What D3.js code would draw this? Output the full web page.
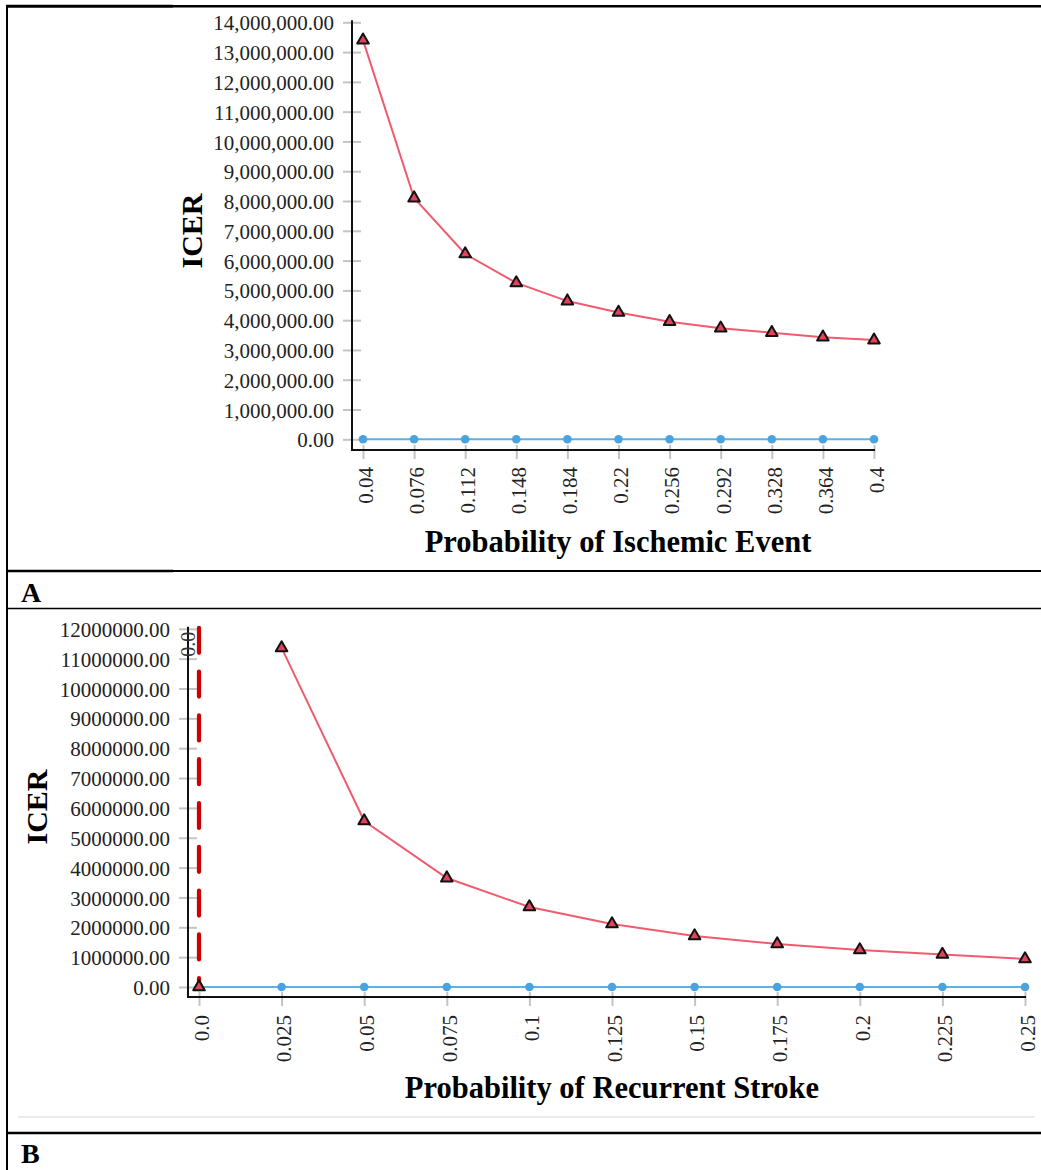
<!DOCTYPE html>
<html>
<head>
<meta charset="utf-8">
<script src="https://cdn.jsdelivr.net/npm/d3@7"></script>
<style>
  html, body { margin: 0; padding: 0; background: #fff; }
  svg { display: block; }
  text { font-family: "Liberation Serif", "Times New Roman", serif; }
</style>
</head>
<body>
<svg id="fig" width="1041" height="1170"></svg>
<script>
// ---- Panel A: probability of ischemic event ----
const ischemicProb = ["0.04", "0.076", "0.112", "0.148", "0.184", "0.22", "0.256", "0.292", "0.328", "0.364", "0.4"];
const ischemicIcer = [13400000, 8100000, 6220000, 5250000, 4640000, 4260000, 3950000, 3730000, 3580000, 3430000, 3330000];
const ischemicBase = [0, 0, 0, 0, 0, 0, 0, 0, 0, 0, 0];
const ischemicYTicks = [0, 1e6, 2e6, 3e6, 4e6, 5e6, 6e6, 7e6, 8e6, 9e6, 10e6, 11e6, 12e6, 13e6, 14e6];

// ---- Panel B: probability of recurrent stroke ----
const strokeProb = ["0.0", "0.025", "0.05", "0.075", "0.1", "0.125", "0.15", "0.175", "0.2", "0.225", "0.25"];
const strokeIcer = [0, 11360000, 5560000, 3650000, 2680000, 2110000, 1710000, 1440000, 1240000, 1090000, 940000];
const strokeBase = [0, 0, 0, 0, 0, 0, 0, 0, 0, 0, 0];
const strokeYTicks = [0, 1e6, 2e6, 3e6, 4e6, 5e6, 6e6, 7e6, 8e6, 9e6, 10e6, 11e6, 12e6];
const strokeRefLine = "0.0";

const svg = d3.select("#fig");

const RED_LINE = "#f25a6e", RED_FILL = "#e0435a";
const BLUE_LINE = "#5cb0e2", BLUE_FILL = "#4aa3dc";
const TICK_GREY = "#c4c4c4";

// ---- table frame ----
const frame = svg.append("g");
function hline(x1, x2, y, w, c) {
  frame.append("line").attr("x1", x1).attr("x2", x2).attr("y1", y).attr("y2", y)
    .attr("stroke", c || "#000").attr("stroke-width", w);
}
frame.append("line").attr("x1", 7).attr("x2", 7).attr("y1", 5).attr("y2", 1170)
  .attr("stroke", "#000").attr("stroke-width", 2);
hline(6, 173, 6.2, 3); hline(173, 1041, 6.2, 2.4);
hline(6, 173, 571, 2.6); hline(173, 1041, 571, 2.2);
hline(6, 1041, 608.5, 1.6);
hline(18, 1035, 1117, 1, "#d8d8d8");
hline(6, 1041, 1133, 2.6);

frame.append("text").attr("x", 21).attr("y", 602).attr("font-size", 28)
  .attr("font-weight", "bold").text("A");
frame.append("text").attr("x", 21).attr("y", 1163).attr("font-size", 28)
  .attr("font-weight", "bold").text("B");

// ---- generic sensitivity panel ----
function drawPanel(cfg) {
  const g = svg.append("g");
  const x = d3.scalePoint().domain(cfg.cats).range(cfg.xRange);
  const y = d3.scaleLinear().domain(cfg.yDomain).range(cfg.yRange);

  // y axis
  const yAxis = g.append("g").attr("transform", `translate(${cfg.axisX},0)`)
    .call(d3.axisLeft(y).tickValues(cfg.yTicks).tickFormat(cfg.yFormat).tickSize(0).tickPadding(0));
  yAxis.select(".domain").remove();
  yAxis.selectAll(".tick line").remove();
  yAxis.selectAll(".tick").append("line")
    .attr("x1", -9).attr("x2", 9).attr("stroke", TICK_GREY).attr("stroke-width", 2);
  yAxis.selectAll(".tick text").attr("x", -18).attr("dy", "0.36em")
    .attr("font-size", 21).attr("fill", "#222")
    .attr("font-family", "'Liberation Serif', 'Times New Roman', serif");
  g.append("line").attr("x1", cfg.axisX).attr("x2", cfg.axisX)
    .attr("y1", cfg.yRange[1] - 2).attr("y2", cfg.axisY + 1)
    .attr("stroke", "#111").attr("stroke-width", 2);

  // x axis
  const xAxis = g.append("g").attr("transform", `translate(0,${cfg.axisY})`)
    .call(d3.axisBottom(x).tickSize(0).tickPadding(0));
  xAxis.select(".domain").remove();
  xAxis.selectAll(".tick").append("line")
    .attr("y1", -5).attr("y2", 9).attr("stroke", TICK_GREY).attr("stroke-width", 2);
  xAxis.selectAll(".tick text")
    .attr("transform", `translate(2,${cfg.labelTop}) rotate(-90)`)
    .attr("y", 0).attr("dy", "0.35em").attr("text-anchor", "end")
    .attr("font-size", 21).attr("fill", "#222")
    .attr("font-family", "'Liberation Serif', 'Times New Roman', serif");
  g.append("line").attr("x1", cfg.axisX).attr("x2", cfg.xRange[1] + 1)
    .attr("y1", cfg.axisY).attr("y2", cfg.axisY)
    .attr("stroke", "#111").attr("stroke-width", 2.2);

  // reference line
  if (cfg.refLine !== undefined) {
    const rx = x(cfg.refLine);
    g.append("line").attr("x1", rx).attr("x2", rx)
      .attr("y1", cfg.yRange[1] - 1).attr("y2", cfg.yRange[0])
      .attr("stroke", "#cc0000").attr("stroke-width", 4.2)
      .attr("stroke-linecap", "round").attr("stroke-dasharray", "25,18.8");
    g.append("text")
      .attr("transform", `translate(${rx - 4},${cfg.yRange[1] + 3}) rotate(-90)`)
      .attr("text-anchor", "end").attr("font-size", 20).attr("fill", "#333")
      .text(cfg.refLine);
  }

  // baseline (comparator) series
  const line = d3.line().x((d, i) => x(cfg.cats[i])).y(d => y(d));
  g.append("path").datum(cfg.base).attr("d", line)
    .attr("fill", "none").attr("stroke", BLUE_LINE).attr("stroke-width", 2);
  g.selectAll(".dot").data(cfg.base).join("circle")
    .attr("cx", (d, i) => x(cfg.cats[i])).attr("cy", d => y(d)).attr("r", 4.3)
    .attr("fill", BLUE_FILL);

  // ICER series
  const icerLine = d3.line().defined(d => d > 0)
    .x((d, i) => x(cfg.cats[i])).y(d => y(d));
  g.append("path").datum(cfg.icer).attr("d", icerLine)
    .attr("fill", "none").attr("stroke", RED_LINE).attr("stroke-width", 2);
  const tri = d3.symbol().type(d3.symbolTriangle).size(58);
  g.selectAll(".tri").data(cfg.icer).join("path")
    .attr("d", tri)
    .attr("transform", (d, i) => `translate(${x(cfg.cats[i])},${y(d)})`)
    .attr("fill", RED_FILL).attr("stroke", "#111").attr("stroke-width", 2)
    .attr("stroke-linejoin", "round");

  // titles
  g.append("text").attr("x", cfg.xTitle[0]).attr("y", cfg.xTitle[1])
    .attr("text-anchor", "middle").attr("font-size", 30.5).attr("font-weight", "bold")
    .text(cfg.xLabel);
  g.append("text")
    .attr("transform", `translate(${cfg.yTitle[0]},${cfg.yTitle[1]}) rotate(-90)`)
    .attr("text-anchor", "middle").attr("font-size", 30).attr("font-weight", "bold")
    .text("ICER");
}

drawPanel({
  cats: ischemicProb, icer: ischemicIcer, base: ischemicBase,
  yTicks: ischemicYTicks, yDomain: [0, 14e6], yRange: [439.3, 22.3],
  yFormat: d3.format(",.2f"),
  xRange: [363, 874], axisX: 352, axisY: 450, labelTop: 17,
  xLabel: "Probability of Ischemic Event", xTitle: [618, 552], yTitle: [202, 231]
});

drawPanel({
  cats: strokeProb, icer: strokeIcer, base: strokeBase,
  yTicks: strokeYTicks, yDomain: [0, 12e6], yRange: [987, 628.8],
  yFormat: d3.format(".2f"),
  xRange: [199, 1025], axisX: 188, axisY: 997, labelTop: 18,
  refLine: strokeRefLine,
  xLabel: "Probability of Recurrent Stroke", xTitle: [612, 1098], yTitle: [47, 807]
});
</script>
</body>
</html>
